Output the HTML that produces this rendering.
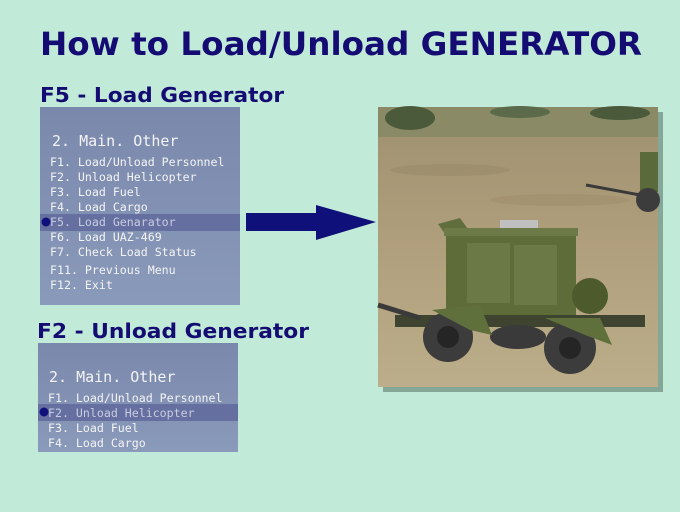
<!DOCTYPE html>
<html><head><meta charset="utf-8"><style>
html,body{margin:0;padding:0;background:#c2ead8;}
svg{display:block}
</style></head><body>
<svg width="680" height="512" viewBox="0 0 680 512" xmlns="http://www.w3.org/2000/svg">
<defs>
<linearGradient id="mg" x1="0" y1="0" x2="0" y2="1"><stop offset="0" stop-color="#7a88ac"/><stop offset="1" stop-color="#8a9aba"/></linearGradient>
<linearGradient id="gr" x1="0" y1="0" x2="0" y2="1"><stop offset="0" stop-color="#9e9070"/><stop offset="0.5" stop-color="#b09f7c"/><stop offset="1" stop-color="#bcae8a"/></linearGradient>
</defs>
<rect width="680" height="512" fill="#c2ead8"/>
<g font-family="'DejaVu Sans','Liberation Sans',sans-serif" font-weight="bold" fill="#140c72">
<text x="40" y="55" font-size="32" textLength="602" lengthAdjust="spacingAndGlyphs">How to Load/Unload GENERATOR</text>
<text x="40" y="102" font-size="20" textLength="244" lengthAdjust="spacingAndGlyphs">F5 - Load Generator</text>
<text x="37" y="338" font-size="20" textLength="272" lengthAdjust="spacingAndGlyphs">F2 - Unload Generator</text>
</g>
<rect x="40" y="107" width="200" height="198" fill="url(#mg)"/>
<rect x="40" y="214" width="200" height="17" fill="#6570a0"/>
<circle cx="46" cy="222" r="4.5" fill="#10107a"/>
<g font-family="'DejaVu Sans Mono','Liberation Mono',monospace" fill="#f4f4f4">
<text x="52" y="146" font-size="15">2. Main. Other</text>
<g font-size="11.6">
<text x="50" y="166">F1. Load/Unload Personnel</text>
<text x="50" y="181">F2. Unload Helicopter</text>
<text x="50" y="196">F3. Load Fuel</text>
<text x="50" y="211">F4. Load Cargo</text>
<text x="50" y="226" fill="#c8cce0">F5. Load Genarator</text>
<text x="50" y="241">F6. Load UAZ-469</text>
<text x="50" y="256">F7. Check Load Status</text>
<text x="50" y="274">F11. Previous Menu</text>
<text x="50" y="289">F12. Exit</text>
</g>
</g>
<rect x="38" y="343" width="200" height="109" fill="url(#mg)"/>
<rect x="38" y="404" width="200" height="17" fill="#6570a0"/>
<circle cx="44" cy="412" r="4.5" fill="#10107a"/>
<g font-family="'DejaVu Sans Mono','Liberation Mono',monospace" fill="#f4f4f4">
<text x="49" y="382" font-size="15">2. Main. Other</text>
<g font-size="11.6">
<text x="48" y="402">F1. Load/Unload Personnel</text>
<text x="48" y="417" fill="#c8cce0">F2. Unload Helicopter</text>
<text x="48" y="432">F3. Load Fuel</text>
<text x="48" y="447">F4. Load Cargo</text>
</g>
</g>
<polygon points="246,213 316,213 316,205 376,222 316,240 316,231 246,231" fill="#10107a"/>
<rect x="383" y="112" width="280" height="280" fill="#5a7a6e" opacity="0.6"/>
<rect x="378" y="107" width="280" height="280" fill="url(#gr)"/>
<rect x="378" y="107" width="280" height="30" fill="#8a8a66"/>
<ellipse cx="410" cy="118" rx="25" ry="12" fill="#4a5a3a"/>
<ellipse cx="520" cy="112" rx="30" ry="6" fill="#5a6a4a"/>
<ellipse cx="620" cy="113" rx="30" ry="7" fill="#4a5a3a"/>
<ellipse cx="450" cy="170" rx="60" ry="6" fill="#9a8a6a" opacity="0.6"/>
<ellipse cx="560" cy="200" rx="70" ry="6" fill="#a08e6c" opacity="0.6"/>
<rect x="640" y="152" width="18" height="40" fill="#5a6a3a"/>
<circle cx="648" cy="200" r="12" fill="#3c3c3c"/>
<line x1="586" y1="185" x2="640" y2="195" stroke="#3a3a3a" stroke-width="3"/>
<polygon points="438,224 460,218 470,232 448,238" fill="#606e3e"/>
<rect x="446" y="232" width="130" height="92" fill="#5e6c3a"/>
<rect x="444" y="228" width="134" height="8" fill="#6c7a48"/>
<rect x="467" y="243" width="43" height="60" fill="#6b7946"/>
<rect x="514" y="245" width="43" height="60" fill="#6b7946"/>
<rect x="500" y="220" width="38" height="8" fill="#c0c0c0"/>
<circle cx="590" cy="296" r="18" fill="#4c5a2c"/>
<rect x="395" y="315" width="250" height="12" fill="#3e4430"/>
<line x1="378" y1="305" x2="420" y2="318" stroke="#3a3a3a" stroke-width="5"/>
<ellipse cx="518" cy="337" rx="28" ry="12" fill="#3a3a3a"/>
<circle cx="448" cy="337" r="25" fill="#3c3c3c"/><circle cx="448" cy="337" r="11" fill="#252525"/>
<circle cx="570" cy="348" r="26" fill="#3c3c3c"/><circle cx="570" cy="348" r="11" fill="#252525"/>
<polygon points="432,310 480,305 492,335 470,330" fill="#60703c"/>
<polygon points="545,318 600,318 612,345 585,335" fill="#60703c"/>
</svg>
</body></html>
